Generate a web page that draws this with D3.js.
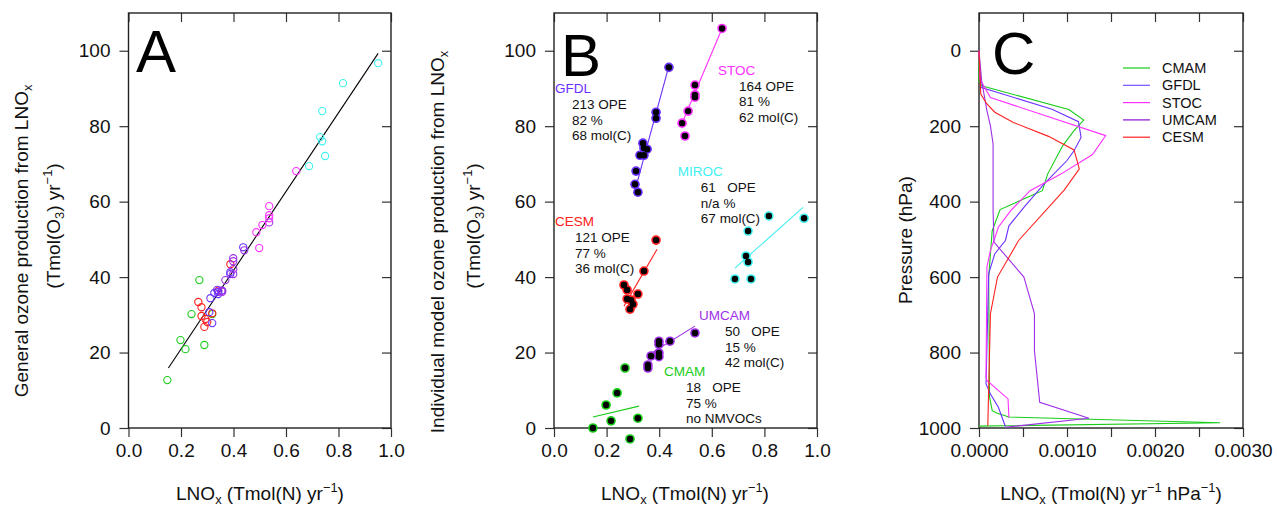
<!DOCTYPE html>
<html>
<head>
<meta charset="utf-8">
<script src="https://cdn.jsdelivr.net/npm/d3@7"></script>
<style>
body { margin: 0; background: #fff; }
svg { font-family: "Liberation Sans", Arial, Helvetica, sans-serif; }
text { white-space: pre; }
</style>
</head>
<body>
<svg id="fig" width="1277" height="508"></svg>
<script>

//////////
// DATA //
//////////

// LNOx per model (same x for panel A and B)
var cmamX  = [0.270, 0.240, 0.198, 0.217, 0.319, 0.148, 0.289],
    cesmX  = [0.388, 0.342, 0.266, 0.278, 0.319, 0.278, 0.293, 0.300, 0.289],
    gfdlX  = [0.437, 0.388, 0.388, 0.338, 0.342, 0.354, 0.327, 0.342, 0.312, 0.308, 0.319],
    umcamX = [0.536, 0.441, 0.399, 0.399, 0.399, 0.399, 0.369, 0.357, 0.357],
    stocX  = [0.639, 0.536, 0.536, 0.536, 0.510, 0.487, 0.498],
    mirocX = [0.817, 0.951, 0.738, 0.730, 0.738, 0.688, 0.749];

// general ozone production (panel A)
var cmamA  = [39.2, 30.2, 23.3, 20.9, 30.2, 12.7, 22.0],
    cesmA  = [43.4, 36.4, 33.4, 32.0, 30.4, 29.7, 28.9, 28.1, 26.8],
    gfdlA  = [47.9, 41.3, 40.8, 36.6, 36.1, 36.4, 35.8, 35.5, 34.4, 30.7, 27.8],
    umcamA = [54.5, 47.1, 45.0, 44.2, 42.1, 40.8, 39.2, 36.4, 36.1],
    stocA  = [68.1, 58.8, 56.4, 55.6, 53.8, 51.9, 47.7],
    mirocA = [91.4, 96.7, 84.0, 77.1, 76.0, 69.4, 72.1];

// general fit line (panel A)
var fitA = [[0.152, 15.9], [0.951, 99.3]];

// individual model ozone production (panel B)
var cmamB  = [15.9, 9.3, 6.1, 1.9, 2.6, 0.0, -2.9],
    cesmB  = [49.8, 41.6, 37.9, 36.6, 35.5, 34.2, 33.9, 32.8, 31.5],
    gfdlB  = [95.6, 83.7, 82.1, 75.5, 74.2, 73.9, 72.3, 72.3, 68.1, 64.6, 62.5],
    umcamB = [25.2, 23.0, 23.0, 22.2, 19.9, 18.9, 19.1, 16.7, 15.9],
    stocB  = [105.9, 90.9, 88.3, 87.7, 84.0, 80.8, 77.4],
    mirocB = [56.2, 55.6, 52.2, 45.6, 44.0, 39.5, 39.5];

// individual fit lines (panel B)
var cmamFit  = [[0.148, 2.9], [0.323, 5.8]],
    cesmFit  = [[0.266, 32.3], [0.392, 47.4]],
    gfdlFit  = [[0.308, 63.0], [0.437, 96.0]],
    umcamFit = [[0.357, 19.3], [0.536, 27.0]],
    stocFit  = [[0.487, 80.8], [0.639, 105.9]],
    mirocFit = [[0.688, 42.4], [0.947, 58.5]];

// annotation text (panel B)
var modelNames = ['GFDL', 'STOC', 'MIROC', 'CESM', 'UMCAM', 'CMAM'],
    opeText    = ['213 OPE', '164 OPE', '61   OPE', '121 OPE', '50   OPE', '18   OPE'],
    pctText    = ['82 %', '81 %', 'n/a %', '77 %', '15 %', '75 %'],
    carbonText = ['68 mol(C)', '62 mol(C)', '67 mol(C)', '36 mol(C)', '42 mol(C)', 'no NMVOCs'];

// vertical profiles (panel C), pressure hPa and LNOx
var cmamP  = [0, 80, 93, 156, 184, 212, 252, 327, 371, 421, 477, 600, 918, 954, 960, 971, 986, 995],
    cmamL  = [0, 0, 0.00003, 0.00102, 0.00119, 0.00108, 0.00095, 0.00078, 0.00072, 0.00024, 0.00015, 0.00011, 0.00012, 0.00015, 0.00020, 0.00034, 0.00274, 0];
var gfdlP  = [0, 97, 155, 188, 230, 265, 291, 353, 415, 464, 503, 538, 591, 883, 910, 945, 996],
    gfdlL  = [0, 0.00002, 0.00083, 0.00113, 0.00116, 0.00108, 0.00100, 0.00074, 0.00051, 0.00034, 0.00030, 0.00018, 0.00011, 0.00008, 0.00013, 0.00022, 0.00030];
var stocP  = [0, 75, 124, 225, 275, 327, 371, 424, 468, 503, 529, 573, 865, 874, 923, 973],
    stocL  = [0, 0.00001, 0.00013, 0.00144, 0.00129, 0.00093, 0.00058, 0.00036, 0.00022, 0.00017, 0.00013, 0.00009, 0.00008, 0.00009, 0.00033, 0.00034];
var umcamP = [0, 80, 159, 199, 247, 424, 507, 600, 697, 795, 932, 974, 998],
    umcamL = [0, 0.00003, 0.00009, 0.00013, 0.00016, 0.00016, 0.00017, 0.00051, 0.00063, 0.00063, 0.00069, 0.00125, 0.00030];
var cesmP  = [0, 115, 141, 163, 190, 227, 263, 313, 369, 503, 600, 697, 994],
    cesmL  = [0, 0.00002, 0.00009, 0.00018, 0.00039, 0.00079, 0.00108, 0.00114, 0.00097, 0.00045, 0.00021, 0.00013, 0.00010];

var legendNames = ['CMAM', 'GFDL', 'STOC', 'UMCAM', 'CESM'];

/////////////////////
// INITIAL SETTINGS //
/////////////////////

var colors = {
    CMAM: '#19cc19',
    CESM: '#ff2020',
    GFDL: '#6a30ff',
    UMCAM: '#a030e8',
    STOC: '#ff30ff',
    MIROC: '#40f0f0'
};
var legendColors = {
    CMAM: '#19cc19', GFDL: '#7a50ff', STOC: '#ff30ff', UMCAM: '#8a10cc', CESM: '#ff2020'
};

var plotTop = 13,
    plotBottom = 428,
    tickFont = 19,
    titleFont = 19;

var svg = d3.select('#fig');

function zip(xs, ys) {
    return xs.map(function(d, i) { return [d, ys[i]]; });
}

// text with sub / superscripts: parts = [[text, 'n'|'sub'|'sup'], ...]
function richText(t, parts, size) {
    var shift = 0;
    parts.forEach(function(p) {
        var dy = 0, fs = size;
        if (p[1] === 'sub') { dy = size * 0.22 - shift; shift = size * 0.22; fs = size * 0.68; }
        else if (p[1] === 'sup') { dy = -size * 0.42 - shift; shift = -size * 0.42; fs = size * 0.68; }
        else { dy = -shift; shift = 0; }
        t.append('tspan').attr('dy', dy).style('font-size', fs + 'px').text(p[0]);
    });
}

/////////////////
// PANEL FRAME //
/////////////////

function drawFrame(x, y, xTicks, xLabels, xFmt, yTicks, yFmt) {

    var g = svg.append('g');
    var x0 = x.range()[0], x1 = x.range()[1];

    g.append('g')
        .attr('transform', 'translate(0,' + plotBottom + ')')
        .call(d3.axisBottom(x).tickValues(xTicks).tickSize(9).tickPadding(7)
            .tickFormat(function(d) { return xLabels.indexOf(d) >= 0 ? xFmt(d) : ''; }));

    g.append('g')
        .attr('transform', 'translate(' + x0 + ',0)')
        .call(d3.axisLeft(y).tickValues(yTicks).tickSize(9).tickPadding(9).tickFormat(yFmt));

    g.append('g')
        .attr('transform', 'translate(0,' + plotTop + ')')
        .call(d3.axisTop(x).tickValues(xTicks).tickSize(-9).tickFormat(''));

    g.append('g')
        .attr('transform', 'translate(' + x1 + ',0)')
        .call(d3.axisRight(y).tickValues(yTicks).tickSize(-9).tickFormat(''));

    g.selectAll('.domain').remove();
    g.selectAll('.tick line').attr('stroke', '#333').attr('stroke-width', 1.2);
    g.selectAll('.tick text')
        .attr('fill', '#111')
        .style('font-size', tickFont + 'px')
        .style('font-family', '"Liberation Sans", Arial, sans-serif');

    g.append('rect')
        .attr('x', x0)
        .attr('y', plotTop)
        .attr('width', x1 - x0)
        .attr('height', plotBottom - plotTop)
        .attr('fill', 'none')
        .attr('stroke', '#222')
        .attr('stroke-width', 1.4);
}

function panelLetter(letter, px, py) {
    svg.append('text')
        .attr('x', px)
        .attr('y', py)
        .style('font-size', '60px')
        .attr('fill', '#000')
        .text(letter);
}

function xTitle(cx, parts) {
    var t = svg.append('text')
        .attr('x', cx)
        .attr('y', 500)
        .attr('text-anchor', 'middle')
        .attr('fill', '#111')
        .style('font-size', titleFont + 'px');
    richText(t, parts, titleFont);
}

function yTitle(bx, cy, parts) {
    var t = svg.append('text')
        .attr('transform', 'translate(' + bx + ',' + cy + ') rotate(-90)')
        .attr('text-anchor', 'middle')
        .attr('fill', '#111')
        .style('font-size', titleFont + 'px');
    richText(t, parts, titleFont);
}

var lnoxParts = [['LNO', 'n'], ['x', 'sub'], [' (Tmol(N) yr', 'n'], ['\u22121', 'sup'], [')', 'n']];
var unitParts = [['(Tmol(O', 'n'], ['3', 'sub'], [') yr', 'n'], ['\u22121', 'sup'], [')', 'n']];

/////////////
// PANEL A //
/////////////

var xA = d3.scaleLinear().domain([0, 1]).range([128.5, 391]);
var yA = d3.scaleLinear().domain([0, 110]).range([plotBottom, plotTop]);

var tickX = [0, 0.2, 0.4, 0.6, 0.8, 1.0],
    tickY = [0, 20, 40, 60, 80, 100];

drawFrame(xA, yA, tickX, tickX, d3.format('.1f'), tickY, d3.format('d'));

var seriesA = [
    ['CMAM', cmamX, cmamA], ['CESM', cesmX, cesmA], ['GFDL', gfdlX, gfdlA],
    ['UMCAM', umcamX, umcamA], ['STOC', stocX, stocA], ['MIROC', mirocX, mirocA]
];

var line = d3.line();

svg.append('path')
    .attr('d', line(fitA.map(function(d) { return [xA(d[0]), yA(d[1])]; })))
    .attr('stroke', '#000')
    .attr('stroke-width', 1.1)
    .attr('fill', 'none');

seriesA.forEach(function(s) {
    svg.append('g').selectAll('circle')
        .data(zip(s[1], s[2]))
        .enter()
        .append('circle')
        .attr('cx', function(d) { return xA(d[0]); })
        .attr('cy', function(d) { return yA(d[1]); })
        .attr('r', 3.6)
        .attr('fill', 'none')
        .attr('stroke', colors[s[0]])
        .attr('stroke-width', 1.1);
});

panelLetter('A', 136, 72);
xTitle(260, lnoxParts);
yTitle(28, 241, [['General ozone production from LNO', 'n'], ['x', 'sub']]);
yTitle(60, 226, unitParts);

/////////////
// PANEL B //
/////////////

var xB = d3.scaleLinear().domain([0, 1]).range([554, 817]);
var yB = d3.scaleLinear().domain([0, 110]).range([plotBottom, plotTop]);

drawFrame(xB, yB, tickX, tickX, d3.format('.1f'), tickY, d3.format('d'));

var seriesB = [
    ['CMAM', cmamX, cmamB, cmamFit], ['CESM', cesmX, cesmB, cesmFit],
    ['GFDL', gfdlX, gfdlB, gfdlFit], ['UMCAM', umcamX, umcamB, umcamFit],
    ['STOC', stocX, stocB, stocFit], ['MIROC', mirocX, mirocB, mirocFit]
];

seriesB.forEach(function(s) {
    var g = svg.append('g');
    g.append('path')
        .attr('d', line(s[3].map(function(d) { return [xB(d[0]), yB(d[1])]; })))
        .attr('stroke', colors[s[0]])
        .attr('stroke-width', 1.1)
        .attr('fill', 'none');
    var pts = zip(s[1], s[2]);
    g.selectAll('.halo')
        .data(pts)
        .enter()
        .append('circle')
        .attr('class', 'halo')
        .attr('cx', function(d) { return xB(d[0]); })
        .attr('cy', function(d) { return yB(d[1]); })
        .attr('r', 4.8)
        .attr('fill', colors[s[0]]);
    g.selectAll('.dot')
        .data(pts)
        .enter()
        .append('circle')
        .attr('class', 'dot')
        .attr('cx', function(d) { return xB(d[0]); })
        .attr('cy', function(d) { return yB(d[1]); })
        .attr('r', 3.2)
        .attr('fill', '#000');
});

// label anchors in data units, stats offset in px
var labelPos = [
    { x: 0.004, y: 88.8, dx: 17 },
    { x: 0.624, y: 93.6, dx: 21 },
    { x: 0.471, y: 66.8, dx: 23 },
    { x: 0.004, y: 53.5, dx: 20 },
    { x: 0.551, y: 28.6, dx: 26 },
    { x: 0.418, y: 13.8, dx: 22 }
];

modelNames.forEach(function(name, i) {
    var p = labelPos[i],
        lx = xB(p.x),
        ly = yB(p.y);
    svg.append('text')
        .attr('x', lx)
        .attr('y', ly)
        .attr('fill', colors[name])
        .style('font-size', '13.5px')
        .text(name);
    [opeText[i], pctText[i], carbonText[i]].forEach(function(txt, j) {
        svg.append('text')
            .attr('x', lx + p.dx)
            .attr('y', ly + 1 + 15.3 * (j + 1))
            .attr('fill', '#111')
            .style('font-size', '13.5px')
            .text(txt);
    });
});

panelLetter('B', 561, 76);
xTitle(685, lnoxParts);
yTitle(444, 242, [['Individual model ozone production from LNO', 'n'], ['x', 'sub']]);
yTitle(480, 226, unitParts);

/////////////
// PANEL C //
/////////////

var xC = d3.scaleLinear().domain([0, 0.003]).range([979, 1243]);
var yC = d3.scaleLinear().domain([1000, -100]).range([plotBottom, plotTop]);

var tickXC = [0, 0.0005, 0.001, 0.0015, 0.002, 0.0025, 0.003],
    labelXC = [0, 0.001, 0.002, 0.003],
    tickYC = [0, 200, 400, 600, 800, 1000];

drawFrame(xC, yC, tickXC, labelXC, d3.format('.4f'), tickYC, d3.format('d'));

var profiles = [
    ['CMAM', cmamP, cmamL], ['GFDL', gfdlP, gfdlL], ['STOC', stocP, stocL],
    ['UMCAM', umcamP, umcamL], ['CESM', cesmP, cesmL]
];

var profileLine = d3.line()
    .x(function(d) { return xC(d[1]); })
    .y(function(d) { return yC(d[0]); });

profiles.forEach(function(s) {
    svg.append('path')
        .attr('d', profileLine(zip(s[1], s[2])))
        .attr('stroke', colors[s[0]])
        .attr('stroke-width', 1.1)
        .attr('fill', 'none');
});

// legend
var legend = svg.append('g').attr('transform', 'translate(1123,68)');
legendNames.forEach(function(name, i) {
    var row = legend.append('g').attr('transform', 'translate(0,' + (i * 17.3) + ')');
    row.append('line')
        .attr('x1', 0).attr('x2', 27)
        .attr('stroke', legendColors[name])
        .attr('stroke-width', 1.2);
    row.append('text')
        .attr('x', 39)
        .attr('y', 5)
        .attr('fill', '#111')
        .style('font-size', '14.5px')
        .text(name);
});

panelLetter('C', 992, 74);
xTitle(1111, [['LNO', 'n'], ['x', 'sub'], [' (Tmol(N) yr', 'n'], ['\u22121', 'sup'],
    [' hPa', 'n'], ['\u22121', 'sup'], [')', 'n']]);
yTitle(912, 240, [['Pressure (hPa)', 'n']]);

</script>
</body>
</html>
